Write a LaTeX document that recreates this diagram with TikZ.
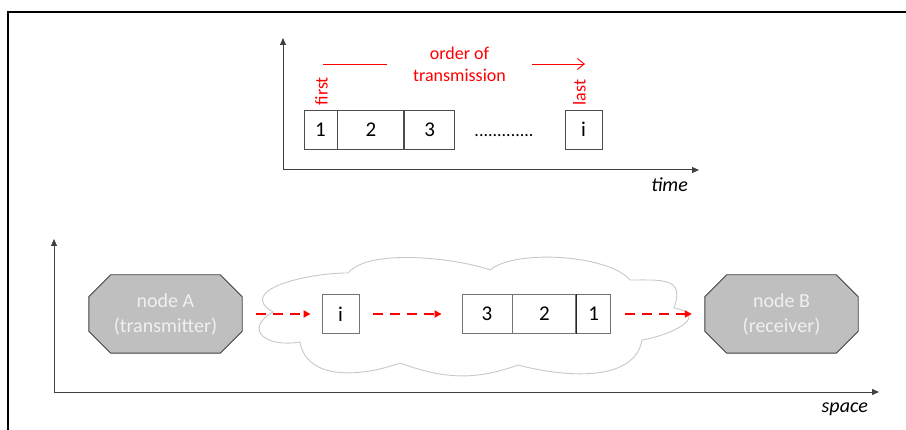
\documentclass[tikz,border=0pt]{standalone}
\usepackage{fontspec}
\setmainfont{Carlito}
\usetikzlibrary{arrows.meta,positioning,backgrounds}
\definecolor{hostgray}{HTML}{BFBFBF}
\definecolor{cloudgray}{HTML}{C8C8C8}

\begin{document}
\begin{tikzpicture}[x=1pt, y=1pt,
  txt/.style={font=\fontsize{18}{22}\selectfont, inner sep=1pt},
  redtxt/.style={txt, text=red},
  axlbl/.style={font=\fontsize{20}{24}\selectfont\itshape, inner sep=0pt},
  pkt/.style={rectangle, draw=black!70, line width=0.9pt, minimum height=39pt, inner sep=0pt, font=\fontsize{21}{25}\selectfont},
  host/.style={rectangle, minimum width=153pt, minimum height=78pt, inner sep=0pt, align=center, text=white!94!black, font=\fontsize{20}{25}\selectfont},
  hostline/.style={draw=black!75, line width=0.9pt, fill=hostgray},
  axis/.style={draw=black!75, line width=1pt, -{Triangle[length=7pt,width=6pt]}},
  flow/.style={red, line width=2.6pt, dash pattern=on 10pt off 7pt, -{Triangle[length=7pt,width=7pt]}, shorten <=14pt}]
\useasboundingbox (0,0) rectangle (906,429);
\clip (0,0) rectangle (906,429);
\draw[line width=1.6pt] (8,-20) rectangle (930,417);

% time axis and packet order
\coordinate (tO) at (283,259); \coordinate (tY) at (283,391); \coordinate (tX) at (699,259);
\draw[axis] (tO) -- (tY); \draw[axis] (tO) -- (tX);
\node[axlbl, anchor=north east] (time) at ([xshift=-11pt,yshift=-7pt]tX) {time};
\node[pkt, minimum width=33pt] (t1) at (320.5,299.5) {1};
\node[pkt, minimum width=66pt, right=0pt of t1] (t2) {2};
\node[pkt, minimum width=50pt, right=0pt of t2] (t3) {3};
\node[pkt, minimum width=37pt] (ti) at (583.5,299.5) {i};
\node[txt, anchor=base] (dots) at (504,292) {.............};
\node[redtxt, rotate=90, anchor=west] (first) at ([xshift=1pt,yshift=3pt]t1.north) {first};
\node[redtxt, rotate=90, anchor=west] (last) at ([xshift=-4pt,yshift=3pt]ti.north) {last};
\node[redtxt, align=center, minimum width=145pt, inner sep=0pt] (order) at (459.5,365) {order of\\transmission};
\coordinate (ordL) at (323,365); \coordinate (ordR) at (585,365);
\draw[red, line width=0.9pt] (ordL) -- (order.west);
\draw[red, line width=0.9pt, -{Straight Barb[length=7pt,width=11pt]}] (order.east) -- (ordR);

% space axis and network
\coordinate (sO) at (54,37); \coordinate (sY) at (54,190); \coordinate (sX) at (879,37);
\draw[axis] (sO) -- (sY); \draw[axis] (sO) -- (sX);
\node[axlbl, anchor=north east] (space) at ([xshift=-11pt,yshift=-11pt]sX) {space};
\draw[cloudgray, line width=0.9pt, fill=white] (273,117) to[out=150,in=180,looseness=1.3] (348,156)
  to[out=50,in=160,looseness=0.6] (490,159) to[out=40,in=130,looseness=0.6] (630,149)
  to[out=0,in=70,looseness=1.6] (674,121) to[out=-10,in=10,looseness=2] (642,89)
  to[out=-100,in=-15,looseness=0.9] (518,64) to[out=-160,in=-20] (400,66)
  to[out=-160,in=-80] (300,87) to[out=190,in=210,looseness=2.2] cycle;
\node[host] (nodeA) at (165.5,115) {node A\\(transmitter)};
\node[host] (nodeB) at (781.5,115) {node B\\(receiver)};
\begin{scope}[on background layer]
\foreach \h in {nodeA,nodeB}
  \draw[hostline] ([xshift=22pt]\h.north west) -- ([xshift=-22pt]\h.north east) -- ([yshift=-22pt]\h.north east)
    -- ([yshift=22pt]\h.south east) -- ([xshift=-22pt]\h.south east) -- ([xshift=22pt]\h.south west)
    -- ([yshift=22pt]\h.south west) -- ([yshift=-22pt]\h.north west) -- cycle;
\end{scope}
\node[pkt, draw=black!55, minimum width=37pt] (bi) at (340.5,115) {i};
\node[pkt, draw=black!55, minimum width=50pt] (b3) at (487,115) {3};
\node[pkt, draw=black!55, minimum width=63pt, right=0pt of b3] (b2) {2};
\node[pkt, draw=black!55, minimum width=34pt, right=0pt of b2] (b1) {1};
\draw[black!85, line width=1pt] (b1.north west) -- (b1.south west);
\draw[flow, shorten >=11pt] (nodeA) -- (bi);
\draw[flow, shorten >=20pt] (bi) -- (b3);
\draw[flow, shorten >=13pt] (b1) -- (nodeB);
\end{tikzpicture}
\end{document}
